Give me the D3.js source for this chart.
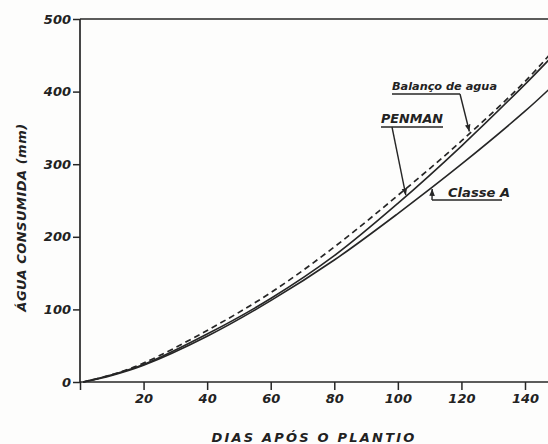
<!DOCTYPE html>
<html>
<head>
<meta charset="utf-8">
<script src="https://cdn.jsdelivr.net/npm/d3@7"></script>
<style>
  body { margin: 0; background: #fdfdfc; }
  svg { display: block; }
  text { font-family: "DejaVu Sans", sans-serif; font-style: italic; fill: #222; }
</style>
</head>
<body>
<svg width="548" height="444"></svg>
<script>
// Days after planting and cumulative water use (mm)
const days    = [1, 10, 20, 40, 60, 80, 100, 120, 140, 148];
const classeA = [0, 9, 23, 63, 112, 168, 232, 300, 373, 405];
const penman  = [0, 10, 24, 66, 115, 174, 246, 325, 410, 446];
const balanco = [0, 10, 26, 71, 123, 186, 257, 332, 414, 452];

const xTicks = [0, 20, 40, 60, 80, 100, 120, 140];
const yTicks = [0, 100, 200, 300, 400, 500];

const ink = "#262626";
const svg = d3.select("svg");

// Scales
const x = d3.scaleLinear().domain([0, 140]).range([80, 525]);
const y = d3.scaleLinear().domain([0, 500]).range([382, 19]);

// Axes
const xAxis = svg.append("g")
    .attr("transform", `translate(0,${y(0)})`)
    .call(d3.axisBottom(x).tickValues(xTicks).tickSize(8).tickPadding(4).tickFormat(d => d === 0 ? "" : d));
xAxis.select(".domain").remove();
xAxis.append("line")
    .attr("x1", x(0)).attr("x2", 548)
    .attr("stroke", ink).attr("stroke-width", 1.7);

const yAxis = svg.append("g")
    .attr("transform", `translate(${x(0)},0)`)
    .call(d3.axisLeft(y).tickValues(yTicks).tickSize(7).tickPadding(2));
yAxis.select(".domain").remove();
yAxis.append("line")
    .attr("y1", y(500)).attr("y2", y(0))
    .attr("stroke", ink).attr("stroke-width", 1.7);

svg.selectAll(".tick line").attr("stroke", ink).attr("stroke-width", 1.5);
svg.selectAll(".tick text")
    .attr("font-size", 13)
    .attr("font-family", "DejaVu Sans")
    .attr("font-style", "italic")
    .attr("font-weight", "bold")
    .attr("fill", "#222");

// top frame line
svg.append("line")
    .attr("x1", x(0)).attr("x2", 548)
    .attr("y1", y(500)).attr("y2", y(500))
    .attr("stroke", ink).attr("stroke-width", 1.7);

// Axis titles
svg.append("text")
    .attr("transform", `translate(26,${(y(0) + y(500)) / 2 + 17}) rotate(-90)`)
    .attr("text-anchor", "middle")
    .attr("font-size", 13)
    .attr("font-weight", "bold")
    .attr("letter-spacing", 0.5)
    .text("ÁGUA  CONSUMIDA (mm)");

svg.append("text")
    .attr("x", (x(0) + 548) / 2)
    .attr("y", 442)
    .attr("text-anchor", "middle")
    .attr("font-size", 13)
    .attr("font-weight", "bold")
    .attr("letter-spacing", 2.2)
    .text("DIAS  APÓS O PLANTIO");

// Curves
const line = d3.line()
    .x((d, i) => x(days[i]))
    .y(d => y(d))
    .curve(d3.curveCatmullRom);

const plot = svg.append("g");
plot.append("path").datum(classeA)
    .attr("d", line).attr("fill", "none")
    .attr("stroke", ink).attr("stroke-width", 1.6);
plot.append("path").datum(penman)
    .attr("d", line).attr("fill", "none")
    .attr("stroke", ink).attr("stroke-width", 1.6);
plot.append("path").datum(balanco)
    .attr("d", line).attr("fill", "none")
    .attr("stroke", ink).attr("stroke-width", 1.7)
    .attr("stroke-dasharray", "6,4");

// arrowhead
svg.append("defs").append("marker")
    .attr("id", "arrow")
    .attr("viewBox", "0 0 10 10")
    .attr("refX", 10).attr("refY", 5)
    .attr("markerWidth", 5).attr("markerHeight", 5)
    .attr("orient", "auto")
    .append("path")
    .attr("d", "M 0 1 L 10 5 L 0 9 z")
    .attr("fill", ink);

// value of a series at a given day (linear between read points)
function valueAt(series, day) {
    const i = Math.max(1, d3.bisectLeft(days, day));
    const t = (day - days[i - 1]) / (days[i] - days[i - 1]);
    return series[i - 1] + t * (series[i] - series[i - 1]);
}

function label(txt, tx, ty, size, width, under, path) {
    svg.append("text")
        .attr("x", tx).attr("y", ty)
        .attr("font-size", size)
        .attr("font-weight", "bold")
        .attr("textLength", width)
        .attr("lengthAdjust", "spacingAndGlyphs")
        .text(txt);
    svg.append("line")
        .attr("x1", under[0]).attr("x2", under[1])
        .attr("y1", under[2]).attr("y2", under[2])
        .attr("stroke", ink).attr("stroke-width", 1.4);
    svg.append("path")
        .attr("d", d3.line()(path))
        .attr("fill", "none")
        .attr("stroke", ink).attr("stroke-width", 1.4)
        .attr("marker-end", "url(#arrow)");
}

// Balanço de agua -> dashed curve
const bDay = 122.5;
label("Balanço de agua", 392, 90, 11, 105, [392, 460, 94],
    [[460, 94], [x(bDay), y(valueAt(balanco, bDay)) - 2]]);

// PENMAN -> penman curve
const pDay = 102.5;
label("PENMAN", 381, 123, 13, 62, [381, 443, 127],
    [[392, 127], [x(pDay), y(valueAt(penman, pDay)) - 1]]);

// Classe A -> classe A curve
const cDay = 110.8;
label("Classe  A", 448, 197, 13, 62, [432, 502, 200],
    [[432, 200], [x(cDay), y(valueAt(classeA, cDay)) + 2]]);
</script>
</body>
</html>
